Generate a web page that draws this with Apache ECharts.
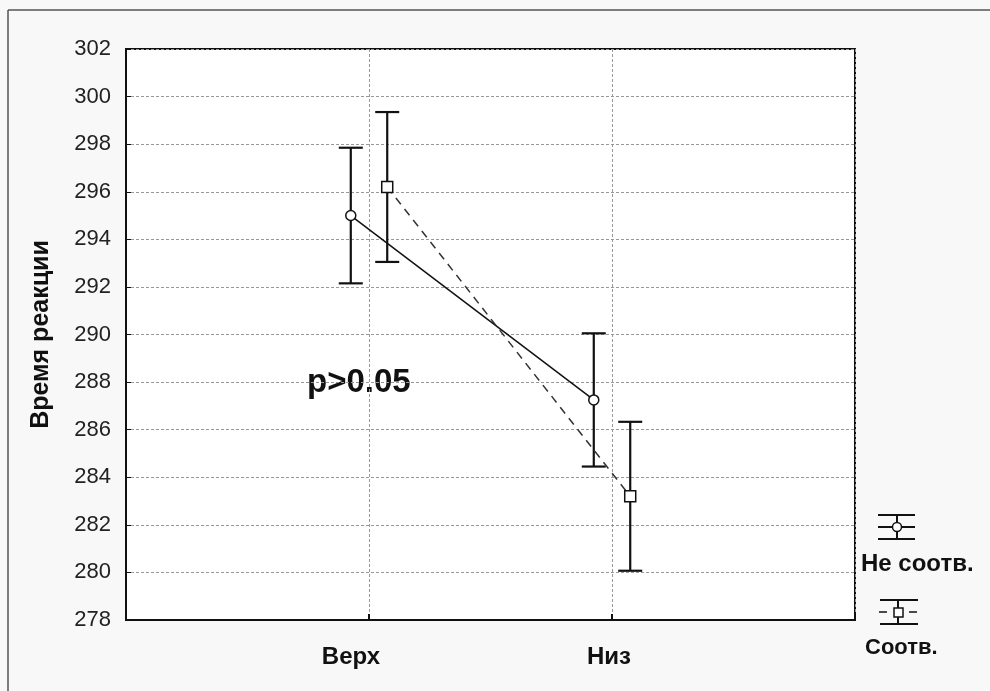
<!DOCTYPE html>
<html>
<head>
<meta charset="utf-8">
<script src="https://cdn.jsdelivr.net/npm/echarts@6/dist/echarts.min.js"></script>
<style>
html,body{margin:0;padding:0;background:#f8f8f8;}
#chart{width:990px;height:691px;}
</style>
</head>
<body>
<div id="chart"></div>
<script>
// data
var categories = ['Верх', 'Низ'];
var seriesNames = ['Не соотв.', 'Соотв.'];
var neSootvMean = [295.0, 287.25];
var neSootvErr = [2.85, 2.8];
var sootvMean = [296.2, 283.2];
var sootvErr = [3.15, 3.13];
var yTicks = [278, 280, 282, 284, 286, 288, 290, 292, 294, 296, 298, 300, 302];
var pText = 'p>0.05';

var offset = 0.075;

function points(mean, shift){
    return mean.map(function(v, i){ return [i + 1 + shift, v]; });
}
function errData(mean, err, shift){
    return mean.map(function(v, i){ return [i + 1 + shift, v - err[i], v + err[i]]; });
}

function renderErr(params, api){
    var x = api.value(0);
    var lo = api.coord([x, api.value(1)]);
    var hi = api.coord([x, api.value(2)]);
    var half = 12;
    var st = {stroke:'#111', lineWidth:2.2};
    return {
        type:'group',
        children:[
            {type:'line', shape:{x1:lo[0], y1:lo[1], x2:hi[0], y2:hi[1]}, style:st},
            {type:'line', shape:{x1:lo[0]-half, y1:lo[1], x2:lo[0]+half, y2:lo[1]}, style:st},
            {type:'line', shape:{x1:hi[0]-half, y1:hi[1], x2:hi[0]+half, y2:hi[1]}, style:st}
        ]
    };
}

var labelStyle = {fontSize:24, fontWeight:'bold', color:'#111', fontFamily:'Liberation Sans'};

var chart = echarts.init(document.getElementById('chart'));
var option = {
    backgroundColor:'#f8f8f8',
    animation:false,
    grid:{
        left:126, top:49, right:135, bottom:71,
        show:true, backgroundColor:'#fff', borderColor:'#111', borderWidth:2
    },
    xAxis:{
        type:'value', min:0, max:3, interval:1,
        axisLine:{show:true, lineStyle:{color:'#111', width:2}},
        axisTick:{show:true, inside:true, length:6, lineStyle:{color:'#111', width:2}},
        splitLine:{show:true, lineStyle:{color:'#999', type:[3,2], width:1}},
        axisLabel:{
            margin:25,
            formatter:function(v){
                if(v === 1) return '{a|' + categories[0] + '}';
                if(v === 2) return '{b|' + categories[1] + '}';
                return '';
            },
            rich:{
                a:Object.assign({padding:[0,36,0,0]}, labelStyle),
                b:Object.assign({padding:[0,6,0,0]}, labelStyle)
            }
        }
    },
    yAxis:{
        type:'value', min:yTicks[0], max:yTicks[yTicks.length-1], interval:2,
        name:'Время реакции', nameLocation:'middle', nameGap:72, nameRotate:90,
        nameTextStyle:{fontSize:25, fontWeight:'bold', color:'#111', fontFamily:'Liberation Sans'},
        axisLine:{show:true, lineStyle:{color:'#111', width:2}},
        axisTick:{show:true, inside:true, length:5, lineStyle:{color:'#111', width:1}},
        splitLine:{show:true, lineStyle:{color:'#999', type:[3,2], width:1}},
        axisLabel:{margin:15, fontSize:22, color:'#222', fontFamily:'Liberation Sans'}
    },
    series:[
        {
            name:seriesNames[0], type:'line', data:points(neSootvMean, -offset),
            symbol:'circle', symbolSize:10, z:3,
            lineStyle:{color:'#111', width:1.5},
            itemStyle:{color:'#fff', borderColor:'#111', borderWidth:1.5}
        },
        {
            name:seriesNames[1], type:'line', data:points(sootvMean, offset),
            symbol:'rect', symbolSize:11, z:3,
            lineStyle:{color:'#333', width:1.5, type:[8,6]},
            itemStyle:{color:'#fff', borderColor:'#111', borderWidth:1.5}
        },
        {type:'custom', renderItem:renderErr, data:errData(neSootvMean, neSootvErr, -offset), z:2},
        {type:'custom', renderItem:renderErr, data:errData(sootvMean, sootvErr, offset), z:2}
    ],
    graphic:[
        {type:'line', shape:{x1:8, y1:10, x2:990, y2:10}, style:{stroke:'#555', lineWidth:1.5}},
        {type:'line', shape:{x1:8, y1:10, x2:8, y2:691}, style:{stroke:'#555', lineWidth:1.5}},
        {type:'text', left:307, top:366, style:{text:pText, font:'bold 33px "Liberation Sans"', fill:'#111'}},
        // legend: Не соотв.
        {type:'group', children:[
            {type:'line', shape:{x1:878, y1:515, x2:915, y2:515}, style:{stroke:'#111', lineWidth:2}},
            {type:'line', shape:{x1:878, y1:527, x2:915, y2:527}, style:{stroke:'#111', lineWidth:2}},
            {type:'line', shape:{x1:878, y1:539, x2:915, y2:539}, style:{stroke:'#111', lineWidth:2}},
            {type:'line', shape:{x1:897, y1:515, x2:897, y2:539}, style:{stroke:'#111', lineWidth:2}},
            {type:'circle', shape:{cx:897, cy:527, r:4.5}, style:{fill:'#fff', stroke:'#111', lineWidth:1.5}}
        ]},
        {type:'text', left:861, top:552, style:{text:seriesNames[0], font:'bold 24px "Liberation Sans"', fill:'#111'}},
        // legend: Соотв.
        {type:'group', children:[
            {type:'line', shape:{x1:880, y1:600, x2:918, y2:600}, style:{stroke:'#111', lineWidth:2}},
            {type:'line', shape:{x1:880, y1:624, x2:918, y2:624}, style:{stroke:'#111', lineWidth:2}},
            {type:'line', shape:{x1:879, y1:612, x2:887, y2:612}, style:{stroke:'#111', lineWidth:1.5}},
            {type:'line', shape:{x1:909, y1:612, x2:917, y2:612}, style:{stroke:'#111', lineWidth:1.5}},
            {type:'line', shape:{x1:898, y1:600, x2:898, y2:624}, style:{stroke:'#111', lineWidth:2}},
            {type:'rect', shape:{x:894, y:608, width:9, height:9}, style:{fill:'#fff', stroke:'#111', lineWidth:1.5}}
        ]},
        {type:'text', left:865, top:637, style:{text:seriesNames[1], font:'bold 22px "Liberation Sans"', fill:'#111'}}
    ]
};
chart.setOption(option);
window.onresize = function(){ chart.resize(); };
</script>
</body>
</html>
